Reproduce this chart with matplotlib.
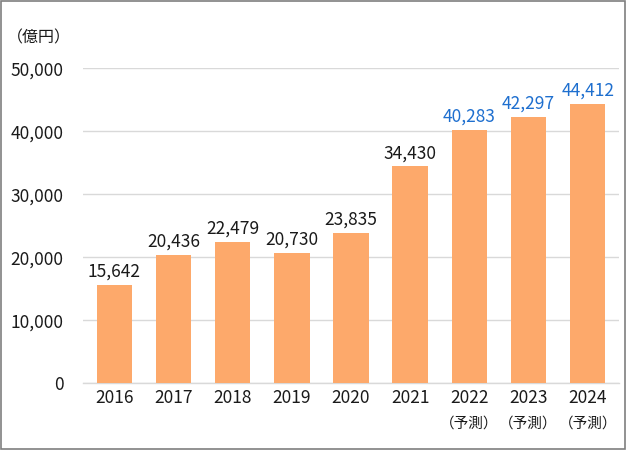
import matplotlib
matplotlib.use("Agg")
import matplotlib.pyplot as plt
from matplotlib.patches import Rectangle

plt.rcParams['font.family'] = ['Noto Sans CJK JP', 'DejaVu Sans']

years = ["2016", "2017", "2018", "2019", "2020", "2021", "2022", "2023", "2024"]
forecast = [False, False, False, False, False, False, True, True, True]
values = [15642, 20436, 22479, 20730, 23835, 34430, 40283, 42297, 44412]
unit_label = "（億円）"
forecast_suffix = "（予測）"

bar_color = "#FDA96B"
grid_color = "#D9D9D9"
normal_text = "#1A1A1A"
forecast_text = "#1E6FCF"
fs = 12.5

fig = plt.figure(figsize=(6.26, 4.5), dpi=100)
ax = fig.add_axes([83/626, 1-383.3/450, (619-83)/626, (383.3-68.3)/450])

x = list(range(len(years)))
ax.bar(x, values, width=0.6, color=bar_color, zorder=3)

ax.set_xlim(-0.53, len(years) - 1 + 0.53)
ax.set_ylim(0, 50000)
ax.set_yticks(range(0, 50001, 10000))
ax.set_yticklabels([f"{v:,}" for v in range(0, 50001, 10000)], fontsize=fs, color=normal_text)
ax.yaxis.grid(True, color=grid_color, linewidth=1, zorder=0)
ax.set_axisbelow(True)
ax.tick_params(axis='y', length=0, pad=14)
ax.tick_params(axis='x', length=0, pad=4)

ax.set_xticks(x)
ax.set_xticklabels(years, fontsize=fs, color=normal_text)
for xi, f in zip(x, forecast):
    if f:
        ax.annotate(forecast_suffix, xy=(xi, 0), xycoords=('data', 'axes fraction'),
                    xytext=(0, -29), textcoords='offset points',
                    ha='center', va='center', fontsize=10.5, color=normal_text)

for s in ['top', 'right', 'left']:
    ax.spines[s].set_visible(False)
ax.spines['bottom'].set_color(grid_color)
ax.spines['bottom'].set_linewidth(1)

for xi, v, f in zip(x, values, forecast):
    ax.annotate(f"{v:,}", (xi, v), xytext=(0, 3), textcoords='offset points',
                ha='center', va='bottom', fontsize=fs,
                color=forecast_text if f else normal_text)

fig.text(39/626, 1-38/450, unit_label, ha='center', va='center', fontsize=11.5, color=normal_text)

fig.patches.append(Rectangle((0.0015, 0.002), 0.997, 0.996, transform=fig.transFigure,
                             fill=False, edgecolor="#7F7F7F", linewidth=1.2))

fig.savefig("out.png", dpi=100)
